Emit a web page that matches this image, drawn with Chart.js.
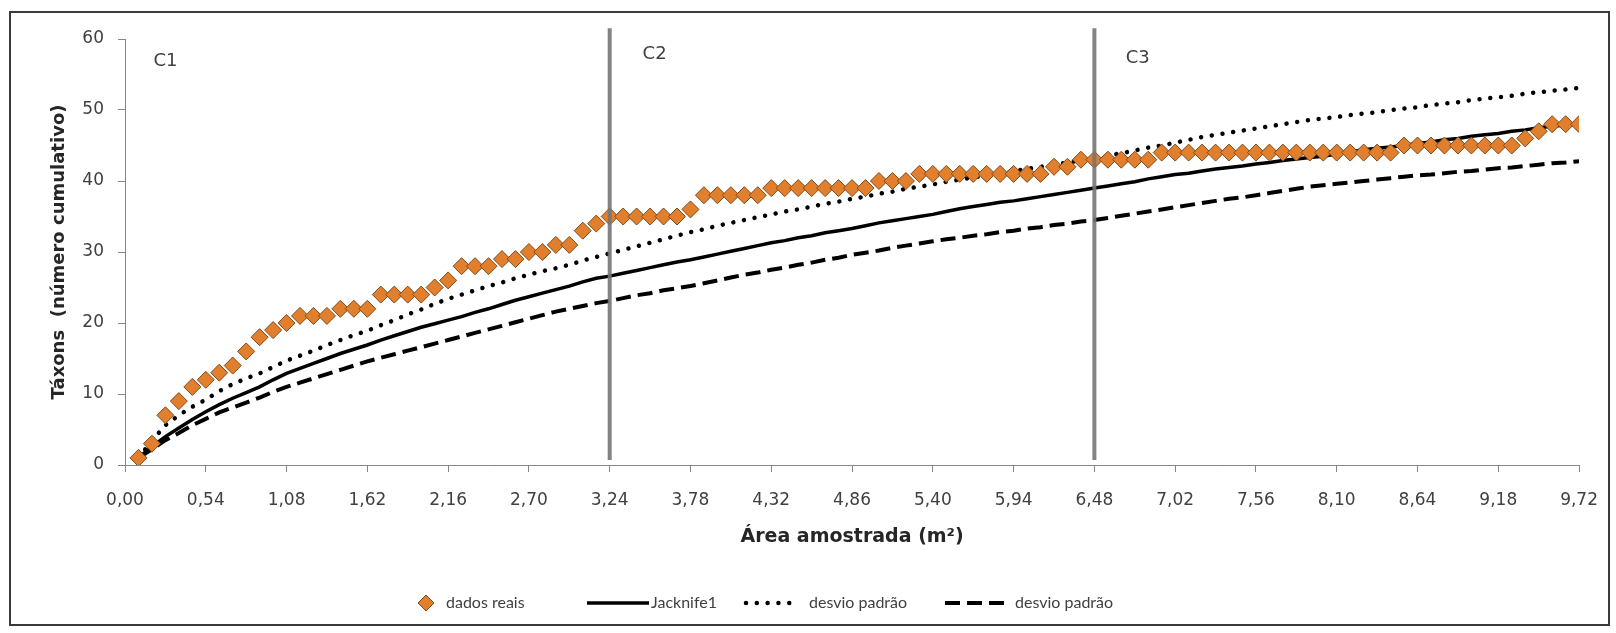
<!DOCTYPE html>
<html lang="pt">
<head>
<meta charset="utf-8">
<title>Curva de acumulação de táxons</title>
<script src="https://cdn.jsdelivr.net/npm/chart.js@4.4.1/dist/chart.umd.min.js"></script>
<style>
  html, body { margin: 0; padding: 0; background: #ffffff; }
  #quadro { position: relative; width: 1616px; height: 633px; }
</style>
</head>
<body>
<div id="quadro"><canvas id="grafico"></canvas></div>
<script>
// Área de cada unidade amostral (m²); as amostras vão de 0,09 a 9,72 m²
const passoArea = 0.09;
const nAmostras = 108;

// Número cumulativo de táxons observado
const dadosReais = [
  1, 3, 7, 9, 11, 12, 13, 14, 16, 18, 19, 20, 21, 21, 21, 22, 22, 22, 24, 24,
  24, 24, 25, 26, 28, 28, 28, 29, 29, 30, 30, 31, 31, 33, 34, 35, 35, 35, 35, 35,
  35, 36, 38, 38, 38, 38, 38, 39, 39, 39, 39, 39, 39, 39, 39, 40, 40, 40, 41, 41,
  41, 41, 41, 41, 41, 41, 41, 41, 42, 42, 43, 43, 43, 43, 43, 43, 44, 44, 44, 44,
  44, 44, 44, 44, 44, 44, 44, 44, 44, 44, 44, 44, 44, 44, 45, 45, 45, 45, 45, 45,
  45, 45, 45, 46, 47, 48, 48, 48
];

// Estimador Jacknife de 1ª ordem
const jacknife1 = [
  1.0, 2.6, 4.0, 5.2, 6.4, 7.5, 8.5, 9.4, 10.2, 11.0, 12.0, 12.9, 13.6, 14.3, 15.0, 15.7, 16.3, 16.9, 17.6, 18.2,
  18.8, 19.4, 19.9, 20.4, 20.9, 21.5, 22.0, 22.6, 23.2, 23.7, 24.2, 24.7, 25.2, 25.8, 26.3, 26.6, 27.0, 27.4, 27.8, 28.2,
  28.6, 28.9, 29.3, 29.7, 30.1, 30.5, 30.9, 31.3, 31.6, 32.0, 32.3, 32.7, 33.0, 33.3, 33.7, 34.1, 34.4, 34.7, 35.0, 35.3,
  35.7, 36.1, 36.4, 36.7, 37.0, 37.2, 37.5, 37.8, 38.1, 38.4, 38.7, 39.0, 39.3, 39.6, 39.9, 40.3, 40.6, 40.9, 41.1, 41.4,
  41.7, 41.9, 42.1, 42.4, 42.6, 42.9, 43.1, 43.3, 43.5, 43.8, 44.1, 44.4, 44.6, 44.8, 45.0, 45.3, 45.5, 45.8, 46.0, 46.3,
  46.5, 46.7, 47.0, 47.2, 47.5, 47.7, 47.9, 48.0
];

// Jacknife1 + desvio padrão
const desvioSuperior = [
  1.0, 3.4, 5.6, 7.0, 8.2, 9.2, 10.4, 11.4, 12.2, 12.9, 13.8, 14.7, 15.4, 16.1, 16.9, 17.6, 18.3, 18.9, 19.7, 20.4,
  21.2, 21.9, 22.7, 23.4, 24.0, 24.6, 25.2, 25.7, 26.3, 26.8, 27.3, 27.7, 28.2, 28.8, 29.3, 29.8, 30.3, 30.8, 31.3, 31.8,
  32.3, 32.8, 33.2, 33.7, 34.1, 34.5, 34.9, 35.3, 35.7, 36.0, 36.4, 36.8, 37.1, 37.5, 37.8, 38.2, 38.5, 38.9, 39.2, 39.5,
  39.9, 40.2, 40.5, 40.8, 41.1, 41.4, 41.7, 42.0, 42.3, 42.6, 42.9, 43.2, 43.6, 43.9, 44.3, 44.7, 45.0, 45.4, 45.8, 46.2,
  46.5, 46.8, 47.1, 47.4, 47.7, 48.0, 48.3, 48.6, 48.8, 49.0, 49.3, 49.5, 49.7, 50.0, 50.2, 50.4, 50.7, 50.9, 51.1, 51.4,
  51.6, 51.8, 52.0, 52.3, 52.5, 52.7, 52.9, 53.1
];

// Jacknife1 − desvio padrão
const desvioInferior = [
  1.0, 2.2, 3.5, 4.5, 5.6, 6.5, 7.4, 8.1, 8.8, 9.5, 10.3, 11.0, 11.6, 12.2, 12.8, 13.4, 14.0, 14.6, 15.1, 15.6,
  16.1, 16.6, 17.1, 17.6, 18.1, 18.6, 19.1, 19.6, 20.1, 20.6, 21.1, 21.6, 22.0, 22.4, 22.8, 23.1, 23.5, 23.9, 24.2, 24.6,
  24.9, 25.2, 25.6, 26.0, 26.4, 26.8, 27.1, 27.5, 27.8, 28.2, 28.5, 28.9, 29.2, 29.6, 29.9, 30.2, 30.6, 30.9, 31.2, 31.5,
  31.8, 32.0, 32.3, 32.5, 32.8, 33.0, 33.3, 33.5, 33.8, 34.0, 34.3, 34.5, 34.8, 35.1, 35.4, 35.7, 36.0, 36.3, 36.6, 36.9,
  37.2, 37.5, 37.7, 38.0, 38.3, 38.6, 38.9, 39.2, 39.4, 39.6, 39.8, 40.0, 40.2, 40.4, 40.6, 40.8, 40.9, 41.1, 41.3, 41.4,
  41.6, 41.8, 41.9, 42.1, 42.3, 42.5, 42.6, 42.8
];

// Eixo X: marcas e rótulos (vírgula decimal)
const ticksArea = [0, 0.54, 1.08, 1.62, 2.16, 2.70, 3.24, 3.78, 4.32, 4.86, 5.40, 5.94, 6.48, 7.02, 7.56, 8.10, 8.64, 9.18, 9.72];
const rotulosArea = ["0,00", "0,54", "1,08", "1,62", "2,16", "2,70", "3,24", "3,78", "4,32", "4,86", "5,40", "5,94", "6,48", "7,02", "7,56", "8,10", "8,64", "9,18", "9,72"];

// Limites entre os setores de coleta e seus nomes
const limitesSetores = [3.24, 6.48];
const nomesSetores = ["C1", "C2", "C3"];

const FONTE = "'DejaVu Sans', 'Open Sans', sans-serif";
const FONTE_LEGENDA = "Lato, 'Open Sans', sans-serif";

const areas = Array.from({ length: nAmostras }, (_, k) => Math.round((k + 1) * passoArea * 100) / 100);
const pares = serie => serie.map((v, k) => ({ x: areas[k], y: v }));

const corLaranja = '#E27F2D';
const corBordaLosango = '#7D4B1F';
const corEixo = '#868686';
const corTexto = '#404040';

// Linhas verticais que separam os setores (ultrapassam levemente o topo da área)
const linhasSetores = limitesSetores.map(x => ({
  label: '',
  data: [{ x: x, y: 0.7 }, { x: x, y: 61.5 }],
  borderColor: 'rgba(118,118,118,0.9)',
  borderWidth: 4,
  pointRadius: 0,
  clip: false,
  order: -1
}));

// Nomes dos setores desenhados dentro da área do gráfico
const pluginSetores = {
  id: 'nomesSetores',
  afterDatasetsDraw(chart) {
    const { ctx, scales: { x, y } } = chart;
    const ancoras = [[0.19, 56.9], [3.46, 57.9], [6.69, 57.3]];
    ctx.save();
    ctx.font = `18px ${FONTE}`;
    ctx.fillStyle = corTexto;
    ctx.textAlign = 'left';
    ctx.textBaseline = 'middle';
    nomesSetores.forEach((nome, k) => {
      ctx.fillText(nome, x.getPixelForValue(ancoras[k][0]), y.getPixelForValue(ancoras[k][1]));
    });
    ctx.restore();
  }
};

// Legenda desenhada na base, com os mesmos estilos das séries
const pluginLegenda = {
  id: 'legendaBase',
  afterDraw(chart) {
    const { ctx } = chart;
    const yLeg = 603;
    ctx.save();
    ctx.font = `16px ${FONTE_LEGENDA}`;
    ctx.textBaseline = 'middle';
    ctx.textAlign = 'left';

    // losango
    const ds0 = chart.data.datasets[0];
    ctx.beginPath();
    ctx.moveTo(426 - 8, yLeg);
    ctx.lineTo(426, yLeg - 8);
    ctx.lineTo(426 + 8, yLeg);
    ctx.lineTo(426, yLeg + 8);
    ctx.closePath();
    ctx.fillStyle = ds0.pointBackgroundColor;
    ctx.fill();
    ctx.lineWidth = 1;
    ctx.strokeStyle = ds0.pointBorderColor;
    ctx.stroke();
    ctx.fillStyle = corTexto;
    ctx.fillText(ds0.label, 446, yLeg);

    const itens = [
      { ds: chart.data.datasets[1], x0: 587, x1: 649, tx: 651 },
      { ds: chart.data.datasets[2], x0: 746, x1: 799, tx: 809 },
      { ds: chart.data.datasets[3], x0: 945, x1: 1005, tx: 1015 }
    ];
    itens.forEach(it => {
      ctx.save();
      ctx.strokeStyle = it.ds.borderColor;
      ctx.lineWidth = it.ds.borderWidth;
      ctx.lineCap = it.ds.borderCapStyle || 'butt';
      ctx.setLineDash(it.ds.borderDash || []);
      ctx.beginPath();
      ctx.moveTo(it.x0, yLeg);
      ctx.lineTo(it.x1, yLeg);
      ctx.stroke();
      ctx.restore();
      ctx.fillText(it.ds.label, it.tx, yLeg);
    });
    ctx.restore();
  }
};

// Moldura externa do gráfico
const pluginMoldura = {
  id: 'moldura',
  beforeDraw(chart) {
    const { ctx, width, height } = chart;
    ctx.save();
    ctx.fillStyle = '#ffffff';
    ctx.fillRect(0, 0, width, height);
    ctx.strokeStyle = '#3a3a3a';
    ctx.lineWidth = 2;
    ctx.strokeRect(10, 12, 1599, 613);
    ctx.restore();
  }
};

new Chart(document.getElementById('grafico'), {
  type: 'line',
  data: {
    datasets: [
      {
        label: 'dados reais',
        data: pares(dadosReais),
        showLine: false,
        pointStyle: 'rectRot',
        pointRadius: 8.5,
        pointBackgroundColor: corLaranja,
        pointBorderColor: corBordaLosango,
        pointBorderWidth: 1,
        borderColor: corLaranja,
        backgroundColor: corLaranja
      },
      {
        label: 'Jacknife1',
        data: pares(jacknife1),
        borderColor: '#000000',
        borderWidth: 3.5,
        pointRadius: 0,
        tension: 0
      },
      {
        label: 'desvio padrão',
        data: pares(desvioSuperior),
        borderColor: '#000000',
        borderWidth: 4.5,
        borderDash: [0.01, 10.8],
        borderCapStyle: 'round',
        pointRadius: 0,
        tension: 0
      },
      {
        label: 'desvio padrão',
        data: pares(desvioInferior),
        borderColor: '#000000',
        borderWidth: 4,
        borderDash: [15, 7],
        pointRadius: 0,
        tension: 0
      },
      ...linhasSetores
    ]
  },
  options: {
    responsive: true,
    maintainAspectRatio: false,
    animation: false,
    events: [],
    layout: { padding: { top: 39, right: 30, left: 0, bottom: 0 } },
    plugins: {
      legend: { display: false },
      tooltip: { enabled: false }
    },
    scales: {
      x: {
        type: 'linear',
        min: 0,
        max: 9.72,
        afterFit: s => { s.height = 168; },
        afterBuildTicks: s => { s.ticks = ticksArea.map(v => ({ value: v })); },
        ticks: {
          callback: (v, i) => rotulosArea[i],
          autoSkip: false,
          maxRotation: 0,
          padding: 18,
          color: corTexto,
          font: { family: FONTE, size: 17 }
        },
        grid: { drawOnChartArea: false, drawTicks: true, tickLength: 7, color: corEixo },
        border: { color: corEixo, width: 1 },
        title: {
          display: true,
          text: 'Área amostrada (m²)',
          color: '#262626',
          font: { family: FONTE, size: 19, weight: 'bold' },
          padding: { top: 0, bottom: 85 }
        }
      },
      y: {
        min: 0,
        max: 60,
        afterFit: s => { s.width = 125; },
        ticks: {
          stepSize: 10,
          padding: 14,
          color: corTexto,
          font: { family: FONTE, size: 17 }
        },
        grid: { drawOnChartArea: false, drawTicks: true, tickLength: 7, color: corEixo },
        border: { color: corEixo, width: 1 },
        title: {
          display: true,
          text: 'Táxons  (número cumulativo)',
          color: '#262626',
          font: { family: FONTE, size: 18, weight: 'bold' },
          padding: { top: 49, bottom: 0 }
        }
      }
    }
  },
  plugins: [pluginMoldura, pluginSetores, pluginLegenda]
});
</script>
</body>
</html>
